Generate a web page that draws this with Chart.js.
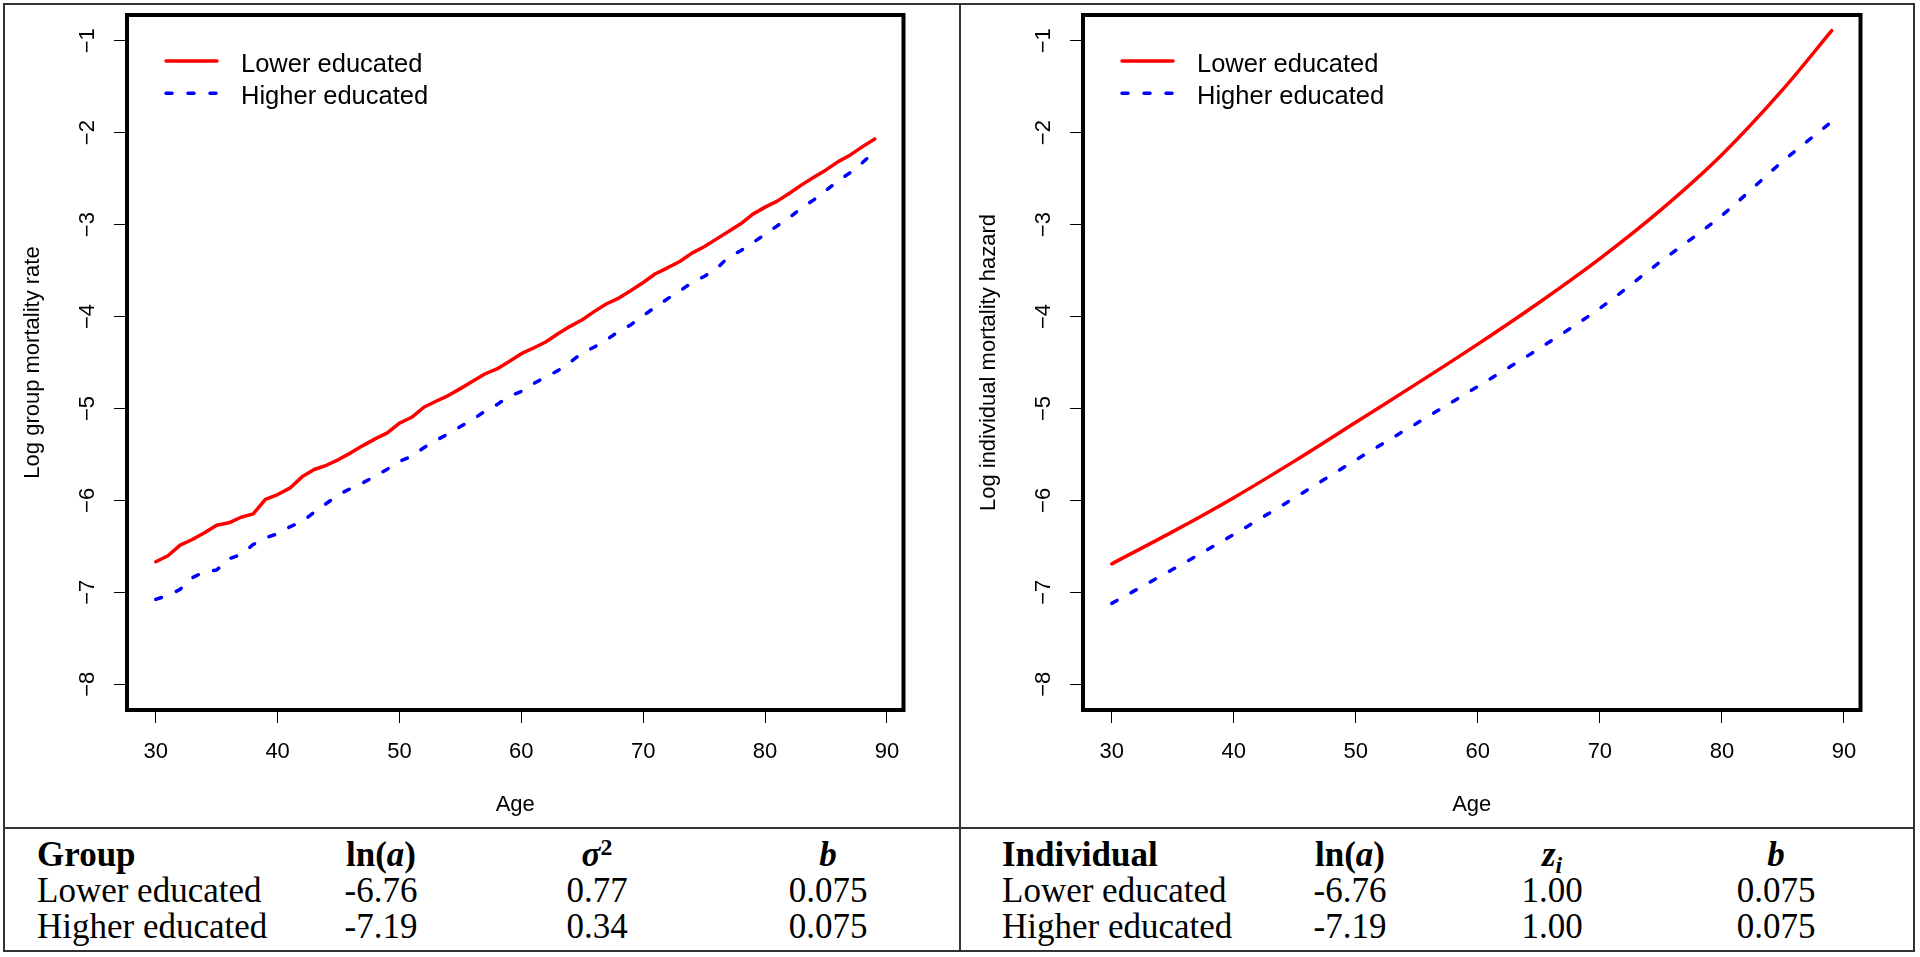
<!DOCTYPE html>
<html lang="en">
<head>
<meta charset="UTF-8">
<title>Log mortality by education</title>
<script src="https://cdn.jsdelivr.net/npm/chart.js"></script>
<style>
    body {
        margin: 0;
        background: #fff;
        width: 1920px;
        height: 957px;
        position: relative;
        overflow: hidden;
    }
    canvas { position: absolute; top: 0; }
    #chartGroup { left: 0; }
    #chartInd { left: 956px; }
    .rule { position: absolute; background: #333; }
    .cell {
        position: absolute;
        font-family: 'Liberation Serif', 'Times New Roman', serif;
        font-size: 35px;
        line-height: 40px;
        color: #000;
        white-space: nowrap;
    }
    .c { width: 160px; text-align: center; }
    .up { position: relative; top: -0.45em; font-size: 0.68em; }
    .dn { position: relative; top: 0.3em; font-size: 0.68em; }
    .r1 { top: 835px; }
    .r2 { top: 871px; }
    .r3 { top: 906.5px; }
</style>
</head>
<body>
    <canvas id="chartGroup" width="960" height="828"></canvas>
    <canvas id="chartInd" width="960" height="828"></canvas>

    <!-- frame lines -->
    <div class="rule" style="left:3px;top:3px;width:1912px;height:2px"></div>
    <div class="rule" style="left:3px;top:950px;width:1912px;height:2px"></div>
    <div class="rule" style="left:3px;top:3px;width:2px;height:949px"></div>
    <div class="rule" style="left:1913px;top:3px;width:2px;height:949px"></div>
    <div class="rule" style="left:959px;top:3px;width:2px;height:949px"></div>
    <div class="rule" style="left:3px;top:827px;width:1912px;height:2px"></div>

    <!-- group table -->
    <div class="cell r1" style="left:37px"><b>Group</b></div>
    <div class="cell c r1" style="left:301px"><b>ln(<i>a</i>)</b></div>
    <div class="cell c r1" style="left:517px"><b><i>σ</i><span class="up">2</span></b></div>
    <div class="cell c r1" style="left:748px"><b><i>b</i></b></div>
    <div class="cell r2" style="left:37px">Lower educated</div>
    <div class="cell c r2" style="left:301px">-6.76</div>
    <div class="cell c r2" style="left:517px">0.77</div>
    <div class="cell c r2" style="left:748px">0.075</div>
    <div class="cell r3" style="left:37px">Higher educated</div>
    <div class="cell c r3" style="left:301px">-7.19</div>
    <div class="cell c r3" style="left:517px">0.34</div>
    <div class="cell c r3" style="left:748px">0.075</div>

    <!-- individual table -->
    <div class="cell r1" style="left:1002px"><b>Individual</b></div>
    <div class="cell c r1" style="left:1270px"><b>ln(<i>a</i>)</b></div>
    <div class="cell c r1" style="left:1472px"><b><i>z<span class="dn">i</span></i></b></div>
    <div class="cell c r1" style="left:1696px"><b><i>b</i></b></div>
    <div class="cell r2" style="left:1002px">Lower educated</div>
    <div class="cell c r2" style="left:1270px">-6.76</div>
    <div class="cell c r2" style="left:1472px">1.00</div>
    <div class="cell c r2" style="left:1696px">0.075</div>
    <div class="cell r3" style="left:1002px">Higher educated</div>
    <div class="cell c r3" style="left:1270px">-7.19</div>
    <div class="cell c r3" style="left:1472px">1.00</div>
    <div class="cell c r3" style="left:1696px">0.075</div>

<script>
// ages for the yearly group rates
const ages = [30, 31, 32, 33, 34, 35, 36, 37, 38, 39, 40, 41, 42, 43, 44, 45, 46, 47, 48, 49,
              50, 51, 52, 53, 54, 55, 56, 57, 58, 59, 60, 61, 62, 63, 64, 65, 66, 67, 68, 69,
              70, 71, 72, 73, 74, 75, 76, 77, 78, 79, 80, 81, 82, 83, 84, 85, 86, 87, 88, 89];

const groupLower = [-6.667, -6.602, -6.487, -6.425, -6.352, -6.270, -6.244, -6.183, -6.146, -5.990,
                    -5.936, -5.867, -5.744, -5.664, -5.618, -5.556, -5.483, -5.404, -5.331, -5.266,
                    -5.160, -5.096, -4.987, -4.922, -4.860, -4.784, -4.705, -4.625, -4.570, -4.488,
                    -4.404, -4.342, -4.277, -4.187, -4.107, -4.035, -3.944, -3.861, -3.799, -3.716,
                    -3.630, -3.535, -3.470, -3.401, -3.310, -3.241, -3.158, -3.075, -2.991, -2.886,
                    -2.810, -2.745, -2.658, -2.568, -2.484, -2.405, -2.315, -2.242, -2.152, -2.068];

const groupHigher = [-7.077, -7.033, -6.968, -6.841, -6.776, -6.758, -6.635, -6.588, -6.479, -6.407,
                     -6.363, -6.287, -6.233, -6.128, -6.034, -5.936, -5.871, -5.809, -5.737, -5.660,
                     -5.575, -5.520, -5.426, -5.347, -5.277, -5.197, -5.121, -5.031, -4.958, -4.868,
                     -4.814, -4.730, -4.657, -4.589, -4.498, -4.396, -4.331, -4.252, -4.161, -4.089,
                     -3.990, -3.897, -3.807, -3.723, -3.630, -3.564, -3.481, -3.354, -3.285, -3.195,
                     -3.108, -3.013, -2.923, -2.817, -2.731, -2.630, -2.524, -2.434, -2.325, -2.206];

// individual hazard, read at five-year steps (smooth curves)
const agesInd = [30, 35, 40, 45, 50, 55, 60, 65, 70, 75, 80, 85, 89];
const indLower = [-6.69, -6.34, -5.97, -5.57, -5.15, -4.73, -4.30, -3.85, -3.37, -2.84, -2.24, -1.53, -0.89];
const indHigher = [-7.12, -6.75, -6.37, -5.97, -5.56, -5.16, -4.76, -4.35, -3.91, -3.40, -2.90, -2.31, -1.88];

const xTicks = [30, 40, 50, 60, 70, 80, 90];
const yTicks = [-8, -7, -6, -5, -4, -3, -2, -1];
const xRange = [27.64, 91.36];
const yRange = [-8.28, -0.72];

const sans = "'Liberation Sans', Arial, Helvetica, sans-serif";
Chart.defaults.color = '#000';

// R style box, rotated y labels and legend inside the plot
const rStyle = {
    id: 'rStyle',
    afterDatasetsDraw(chart) {
        const ctx = chart.ctx;
        const a = chart.chartArea;
        const y = chart.scales.y;
        ctx.save();
        ctx.lineWidth = 4;
        ctx.strokeStyle = '#000';
        ctx.strokeRect(a.left, a.top, a.right - a.left, a.bottom - a.top);

        ctx.fillStyle = '#000';
        ctx.font = '22px ' + sans;
        ctx.textAlign = 'center';
        ctx.textBaseline = 'middle';
        y.ticks.forEach(t => {
            ctx.save();
            ctx.translate(a.left - 39, y.getPixelForValue(t.value));
            ctx.rotate(-Math.PI / 2);
            ctx.fillText('\u2212' + Math.abs(t.value), 0, 0);
            ctx.restore();
        });

        ctx.font = '25.5px ' + sans;
        ctx.textAlign = 'left';
        ctx.textBaseline = 'alphabetic';
        chart.data.datasets.forEach((ds, i) => {
            const ly = a.top + 46 + i * 32.3;
            ctx.beginPath();
            ctx.setLineDash(ds.borderDash || []);
            ctx.lineCap = 'round';
            ctx.strokeStyle = ds.borderColor;
            ctx.lineWidth = ds.borderWidth;
            ctx.moveTo(a.left + 39, ly);
            ctx.lineTo(a.left + 90, ly);
            ctx.stroke();
            ctx.setLineDash([]);
            ctx.fillText(ds.label, a.left + 114, ly + 10.5);
        });
        ctx.restore();
    }
};

function series(label, xs, ys, color, dashed, smooth) {
    return {
        label: label,
        data: xs.map((x, i) => ({x: x, y: ys[i]})),
        borderColor: color,
        borderWidth: 3.5,
        borderDash: dashed ? [6, 16] : [],
        borderCapStyle: 'round',
        borderJoinStyle: 'round',
        pointRadius: 0,
        fill: false,
        tension: 0,
        cubicInterpolationMode: smooth ? 'monotone' : 'default'
    };
}

function makeChart(id, yTitle, datasets, padRight) {
    const ctx = document.getElementById(id).getContext('2d');
    return new Chart(ctx, {
        type: 'line',
        data: { datasets: datasets },
        options: {
            responsive: false,
            animation: false,
            devicePixelRatio: 1,
            layout: { padding: { left: 0, top: 15, right: padRight, bottom: 0 } },
            plugins: { legend: { display: false }, tooltip: { enabled: false } },
            scales: {
                x: {
                    type: 'linear',
                    min: xRange[0],
                    max: xRange[1],
                    afterBuildTicks: s => { s.ticks = xTicks.map(v => ({value: v})); },
                    afterFit: s => { s.height = 118; },
                    grid: { drawOnChartArea: false, drawTicks: true, tickLength: 13, tickColor: '#000', tickWidth: 1 },
                    border: { display: false },
                    ticks: { font: { family: sans, size: 22 }, padding: 16, maxRotation: 0 },
                    title: { display: true, text: 'Age', font: { family: sans, size: 22 }, padding: { top: 0, bottom: 10 } }
                },
                y: {
                    type: 'linear',
                    min: yRange[0],
                    max: yRange[1],
                    afterBuildTicks: s => { s.ticks = yTicks.map(v => ({value: v})); },
                    afterFit: s => { s.width = 127; },
                    grid: { drawOnChartArea: false, drawTicks: true, tickLength: 13, tickColor: '#000', tickWidth: 1 },
                    border: { display: false },
                    ticks: { display: false },
                    title: { display: true, text: yTitle, font: { family: sans, size: 22 }, padding: { top: 20, bottom: 0 } }
                }
            }
        },
        plugins: [rStyle]
    });
}

makeChart('chartGroup', 'Log group mortality rate', [
    series('Lower educated', ages, groupLower, '#ff0000', false, false),
    series('Higher educated', ages, groupHigher, '#0000ff', true, false)
], 56.5);

makeChart('chartInd', 'Log individual mortality hazard', [
    series('Lower educated', agesInd, indLower, '#ff0000', false, true),
    series('Higher educated', agesInd, indHigher, '#0000ff', true, true)
], 55.5);
</script>
</body>
</html>
